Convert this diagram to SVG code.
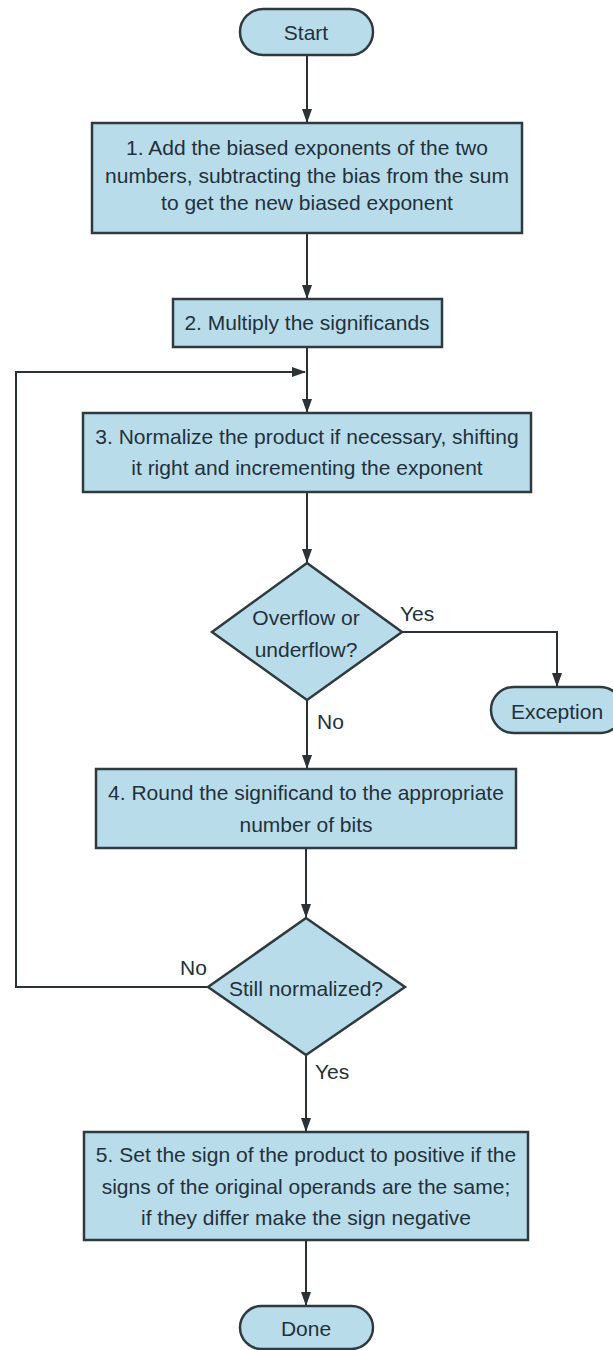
<svg xmlns="http://www.w3.org/2000/svg" width="613" height="1350" viewBox="0 0 613 1350">
<defs>
<marker id="ah" markerWidth="14" markerHeight="10" refX="13" refY="5" orient="auto" markerUnits="userSpaceOnUse">
<path d="M0,0 L14,5 L0,10 Z" fill="#2b3235"/>
</marker>
<style>
.n{fill:#b9dcea;stroke:#2f3a3f;stroke-width:2.5}
.t{font-family:"Liberation Sans",Arial,sans-serif;font-size:21px;fill:#22313b;text-anchor:middle}
.l{font-family:"Liberation Sans",Arial,sans-serif;font-size:21px;fill:#22313b}
.c{fill:none;stroke:#2b3235;stroke-width:2}
</style>
</defs>
<rect width="613" height="1350" fill="#ffffff"/>
<g id="connectors">
<path class="c" d="M307,55 V122" marker-end="url(#ah)"/>
<path class="c" d="M307,233 V298" marker-end="url(#ah)"/>
<path class="c" d="M307,347 V412" marker-end="url(#ah)"/>
<path class="c" d="M208,987 H16 V372 H305" marker-end="url(#ah)"/>
<path class="c" d="M307,492 V562" marker-end="url(#ah)"/>
<path class="c" d="M402,632 H557 V686" marker-end="url(#ah)"/>
<path class="c" d="M307,700 V768" marker-end="url(#ah)"/>
<path class="c" d="M306,848 V917" marker-end="url(#ah)"/>
<path class="c" d="M306,1055 V1131" marker-end="url(#ah)"/>
<path class="c" d="M306,1240 V1305" marker-end="url(#ah)"/>
<text class="l" x="400" y="621">Yes</text>
<text class="l" x="317" y="729">No</text>
<text class="l" x="180" y="975">No</text>
<text class="l" x="315" y="1079">Yes</text>
</g>
<g id="start">
<rect class="n" x="240" y="9" width="133" height="46" rx="23"/>
<text class="t" x="306" y="40">Start</text>
</g>
<g id="step1">
<rect class="n" x="92" y="123" width="430" height="110"/>
<text class="t" x="307" y="155">1.  Add the biased exponents of the two</text>
<text class="t" x="307" y="183">numbers, subtracting the bias from the sum</text>
<text class="t" x="307" y="210">to get the new biased exponent</text>
</g>
<g id="step2">
<rect class="n" x="173" y="299" width="269" height="48"/>
<text class="t" x="307" y="330">2. Multiply the significands</text>
</g>
<g id="step3">
<rect class="n" x="83" y="413" width="448" height="79"/>
<text class="t" x="307" y="444">3. Normalize the product if necessary, shifting</text>
<text class="t" x="307" y="475">it right and incrementing the exponent</text>
</g>
<g id="overflow">
<polygon class="n" points="307,563 402,632 307,700 212,632"/>
<text class="t" x="306" y="625">Overflow or</text>
<text class="t" x="306" y="657">underflow?</text>
</g>
<g id="exception">
<rect class="n" x="491" y="687" width="132" height="46" rx="23"/>
<text class="t" x="557" y="719">Exception</text>
</g>
<g id="step4">
<rect class="n" x="96" y="769" width="420" height="79"/>
<text class="t" x="306" y="800">4. Round the significand to the appropriate</text>
<text class="t" x="306" y="832">number of bits</text>
</g>
<g id="normalized">
<polygon class="n" points="306,918 405,987 306,1055 208,987"/>
<text class="t" x="306" y="996">Still normalized?</text>
</g>
<g id="step5">
<rect class="n" x="84" y="1132" width="444" height="108"/>
<text class="t" x="306" y="1162">5. Set the sign of the product to positive if the</text>
<text class="t" x="306" y="1194">signs of the original operands are the same;</text>
<text class="t" x="306" y="1225">if they differ make the sign negative</text>
</g>
<g id="done">
<rect class="n" x="240" y="1306" width="133" height="43" rx="21.5"/>
<text class="t" x="306" y="1336">Done</text>
</g>
</svg>
